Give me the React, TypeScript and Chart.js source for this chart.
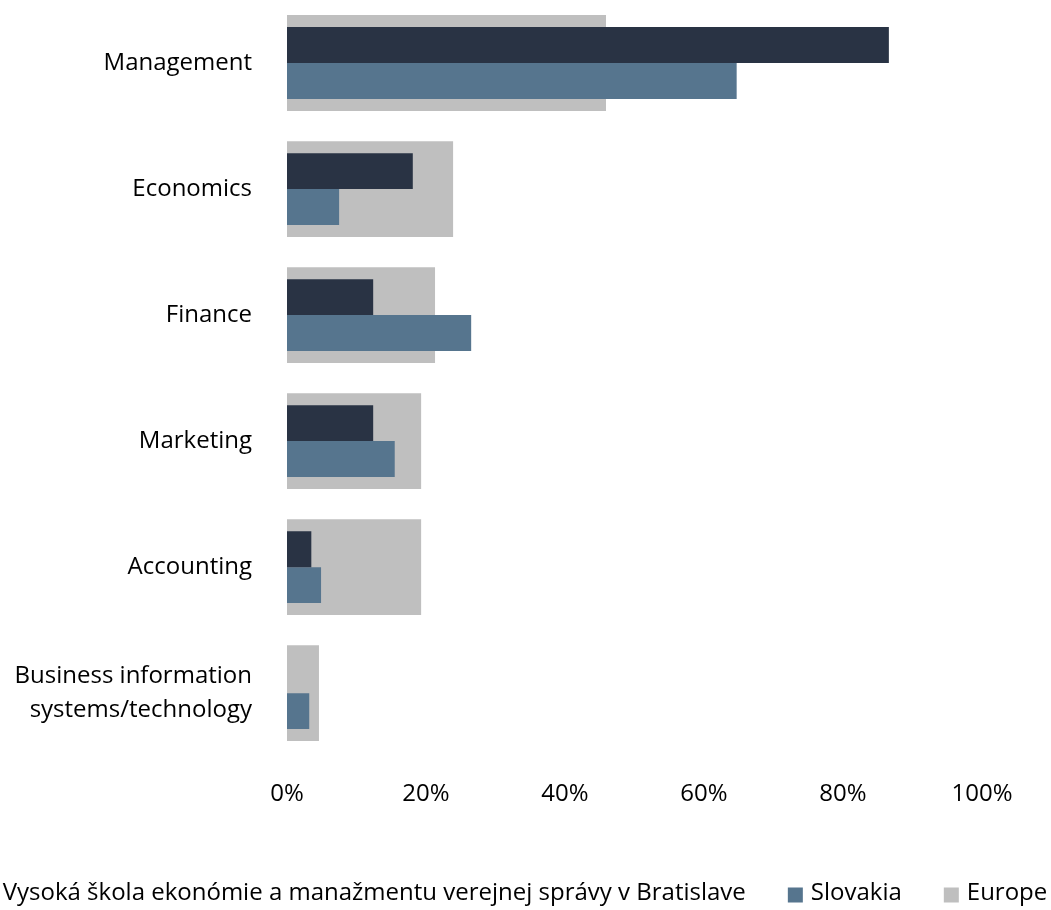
import React, { useEffect, useRef } from "react";
import { Chart, registerables } from "chart.js";

Chart.register(...registerables);

const categories: (string | string[])[] = [
  "Management",
  "Economics",
  "Finance",
  "Marketing",
  "Accounting",
  ["Business information", "systems/technology"],
];

const schoolLabel = "Vysoká škola ekonómie a manažmentu verejnej správy v Bratislave";
const schoolValues = [86.6, 18.1, 12.4, 12.4, 3.5, 0];

const slovakiaLabel = "Slovakia";
const slovakiaValues = [64.7, 7.5, 26.5, 15.5, 4.9, 3.2];

const europeLabel = "Europe";
const europeValues = [45.9, 23.9, 21.3, 19.3, 19.3, 4.6];

const xTicks = [0, 20, 40, 60, 80, 100];

const FONT = "'Open Sans', sans-serif";
const FONT_SIZE = 24;

const legendPlugin = {
  id: "bottomLegend",
  afterDraw(chart: any) {
    const ctx = chart.ctx as CanvasRenderingContext2D;
    const datasets = chart.data.datasets;
    ctx.save();
    ctx.font = `${FONT_SIZE}px ${FONT}`;
    ctx.textBaseline = "middle";
    ctx.textAlign = "left";
    const box = 15;
    const boxGap = 8;
    const itemGap = 42;
    const widths = datasets.map((d: any) => box + boxGap + ctx.measureText(d.label).width);
    const total = widths.reduce((a: number, b: number) => a + b, 0) + itemGap * (datasets.length - 1);
    let x = chart.width / 2 - 12 - total / 2;
    const y = 895;
    datasets.forEach((d: any, i: number) => {
      ctx.fillStyle = d.backgroundColor;
      ctx.fillRect(x, y - box / 2, box, box);
      ctx.fillStyle = "#000";
      ctx.fillText(d.label, x + box + boxGap, y - 2);
      x += widths[i] + itemGap;
    });
    ctx.restore();
  },
};

export default function App() {
  const canvasRef = useRef<HTMLCanvasElement | null>(null);

  useEffect(() => {
    if (!canvasRef.current) return;
    Chart.defaults.font.family = FONT;
    Chart.defaults.font.size = FONT_SIZE;
    Chart.defaults.color = "#000";
    const chart = new Chart(canvasRef.current, {
      type: "bar",
      data: {
        labels: categories,
        datasets: [
          {
            label: schoolLabel,
            data: schoolValues,
            backgroundColor: "#293344",
            categoryPercentage: 0.57,
            barPercentage: 1.0,
          },
          {
            label: slovakiaLabel,
            data: slovakiaValues,
            backgroundColor: "#56758E",
            categoryPercentage: 0.57,
            barPercentage: 1.0,
          },
          {
            label: europeLabel,
            data: europeValues,
            backgroundColor: "#BFBFBF",
            grouped: false,
            categoryPercentage: 1.0,
            barPercentage: 0.76,
          },
        ],
      },
      options: {
        indexAxis: "y",
        animation: false,
        responsive: true,
        maintainAspectRatio: false,
        layout: { padding: { left: 0, right: 69, top: 0, bottom: 77 } },
        plugins: {
          legend: { display: false },
          tooltip: { enabled: false },
        },
        scales: {
          x: {
            min: 0,
            max: 100,
            afterBuildTicks: (scale: any) => {
              scale.ticks = xTicks.map((v) => ({ value: v }));
            },
            afterFit: (scale: any) => {
              scale.paddingLeft = 0;
              scale.paddingRight = 0;
            },
            ticks: {
              padding: 24,
              callback: (v: any) => `${v}%`,
              maxRotation: 0,
            },
            grid: { display: false, drawTicks: false },
            border: { display: false },
          },
          y: {
            afterFit: (scale: any) => {
              scale.width = 287;
              scale.paddingTop = 0;
              scale.paddingBottom = 0;
            },
            ticks: { padding: 35, font: { lineHeight: 1.45 } },
            grid: { display: false, drawTicks: false },
            border: { display: false },
          },
        },
      } as any,
      plugins: [legendPlugin],
    });
    return () => chart.destroy();
  }, []);

  return (
    <div style={{ position: "fixed", left: 0, top: 0, width: "100vw", height: "100vh", background: "#fff" }}>
      <canvas ref={canvasRef} />
    </div>
  );
}
